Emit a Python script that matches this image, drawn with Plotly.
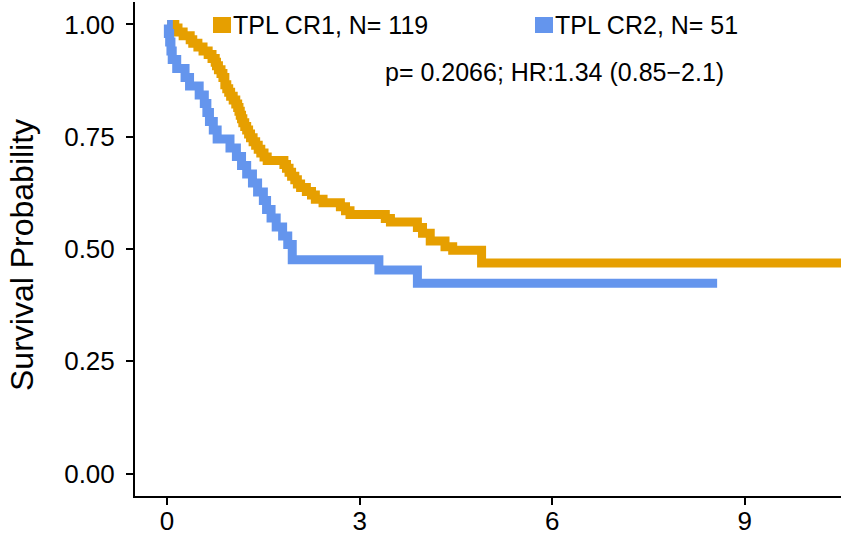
import plotly.graph_objects as go

# Kaplan-Meier step estimates (time of each drop, survival after it)
cr1_time = [0.0, 0.12, 0.17, 0.25, 0.36, 0.40, 0.48, 0.56, 0.64, 0.70, 0.75, 0.77,
            0.80, 0.84, 0.87, 0.90, 0.93, 0.96, 0.99, 1.03, 1.07, 1.10, 1.12, 1.14,
            1.16, 1.18, 1.21, 1.24, 1.27, 1.30, 1.34, 1.38, 1.42, 1.46, 1.51, 1.56,
            1.82, 1.86, 1.90, 1.94, 1.99, 2.03, 2.08, 2.17, 2.25, 2.31, 2.43, 2.70,
            2.78, 2.85, 3.40, 3.48, 3.90, 3.98, 4.10, 4.33, 4.45, 4.90, 10.5]
cr1_surv = [1.000, 0.992, 0.983, 0.975, 0.966, 0.958, 0.950, 0.941, 0.933, 0.924, 0.916, 0.908,
            0.899, 0.891, 0.882, 0.866, 0.857, 0.849, 0.840, 0.832, 0.823, 0.815, 0.807, 0.798,
            0.790, 0.781, 0.773, 0.765, 0.756, 0.748, 0.739, 0.731, 0.722, 0.714, 0.705, 0.697,
            0.688, 0.680, 0.671, 0.662, 0.654, 0.645, 0.637, 0.628, 0.620, 0.611, 0.603, 0.594,
            0.585, 0.577, 0.568, 0.560, 0.548, 0.535, 0.518, 0.505, 0.497, 0.469, 0.469]

cr2_time = [0.0, 0.02, 0.04, 0.06, 0.08, 0.15, 0.28, 0.35, 0.50, 0.58, 0.62, 0.66,
            0.72, 0.78, 0.98, 1.08, 1.16, 1.24, 1.33, 1.41, 1.50, 1.55, 1.62, 1.70,
            1.80, 1.88, 1.95, 3.30, 3.90, 8.57]
cr2_surv = [1.000, 0.980, 0.961, 0.941, 0.922, 0.902, 0.882, 0.863, 0.843, 0.824, 0.804, 0.784,
            0.765, 0.745, 0.725, 0.706, 0.686, 0.667, 0.647, 0.627, 0.608, 0.588, 0.569, 0.549,
            0.529, 0.510, 0.476, 0.453, 0.424, 0.424]

group_names = ["TPL CR1, N= 119", "TPL CR2, N= 51"]
group_colors = ["#E69F00", "#6495ED"]
stats_text = "p= 0.2066; HR:1.34 (0.85\u22122.1)"

x_ticks = [0, 3, 6, 9]
y_ticks = [0.0, 0.25, 0.5, 0.75, 1.0]

W, H = 841, 538
ML, MR, MT, MB = 135, 0, 2, 42
PW, PH = W - ML - MR, H - MT - MB


def px_x(px):
    return (px - ML) / PW


def px_y(py):
    return (H - MB - py) / PH


FONT = "Liberation Sans, Arial, sans-serif"

fig = go.Figure()
for t, s, col in [(cr1_time, cr1_surv, group_colors[0]), (cr2_time, cr2_surv, group_colors[1])]:
    fig.add_trace(go.Scatter(x=t, y=s, mode="lines", line=dict(color=col, width=9, shape="hv"),
                             showlegend=False, hoverinfo="skip"))

shapes = []
annotations = []
# legend keys
for (x0, x1), col, name in zip([(213, 231), (535, 553)], group_colors, group_names):
    shapes.append(dict(type="rect", xref="paper", yref="paper", x0=px_x(x0), x1=px_x(x1),
                       y0=px_y(33), y1=px_y(17), fillcolor=col, line=dict(width=0)))
    annotations.append(dict(xref="paper", yref="paper", x=px_x(x1), y=px_y(25), text=name,
                            showarrow=False, xanchor="left", yanchor="middle",
                            font=dict(family=FONT, size=25, color="black")))

annotations.append(dict(xref="paper", yref="paper", x=px_x(383), y=px_y(72), text=stats_text,
                        showarrow=False, xanchor="left", yanchor="middle",
                        font=dict(family=FONT, size=25, color="black")))
annotations.append(dict(xref="paper", yref="paper", x=px_x(22), y=px_y(255),
                        text="Survival Probability", textangle=-90, showarrow=False,
                        xanchor="center", yanchor="middle",
                        font=dict(family=FONT, size=32, color="black")))

axis_common = dict(showgrid=False, zeroline=False, showline=True, linecolor="black", linewidth=2,
                   ticks="outside", ticklen=7, tickwidth=2, tickcolor="black",
                   tickfont=dict(family=FONT, size=26, color="black"))

fig.update_layout(
    width=W, height=H,
    margin=dict(l=ML, r=MR, t=MT, b=MB, autoexpand=False),
    plot_bgcolor="white", paper_bgcolor="white",
    xaxis=dict(range=[-0.5, 10.5], tickvals=x_ticks, ticktext=[str(v) for v in x_ticks],
               ticklabelstandoff=-6, **axis_common),
    yaxis=dict(range=[-0.05, 1.05], tickvals=y_ticks, tickformat=".2f",
               ticklabelstandoff=6, **axis_common),
    shapes=shapes, annotations=annotations,
)

fig.write_html("out.html")
